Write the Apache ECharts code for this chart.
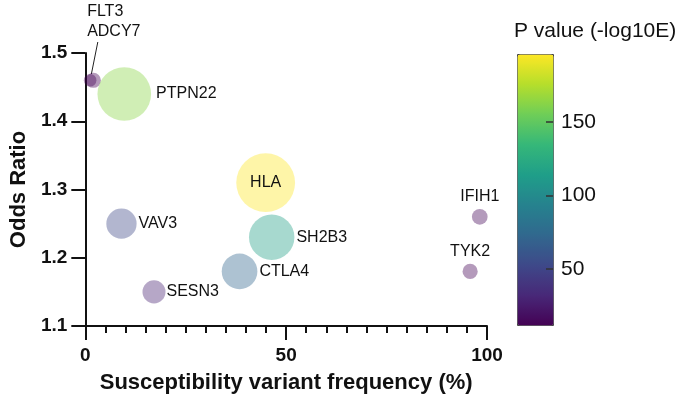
<!DOCTYPE html>
<html>
<head>
<meta charset="utf-8">
<script src="https://cdn.jsdelivr.net/npm/echarts@6/dist/echarts.min.js"></script>
<style>
html,body{margin:0;padding:0;background:#fff;}
#chart{width:685px;height:403px;}
</style>
</head>
<body>
<div id="chart"></div>
<script>
// ---- data ----
const genes = ['FLT3', 'ADCY7', 'PTPN22', 'HLA', 'SH2B3', 'CTLA4', 'VAV3', 'SESN3', 'IFIH1', 'TYK2'];
const variantFrequency = [1.2, 2.0, 9.7, 44.9, 46.4, 38.4, 9.0, 17.1, 98.2, 95.8];
const oddsRatio = [1.46, 1.46, 1.44, 1.31, 1.23, 1.18, 1.25, 1.15, 1.26, 1.18];
const pValueLog = [9, 13, 163, 196, 117, 72, 52, 30, 14, 13];
const xTicks = [0, 50, 100];
const yTicks = [1.1, 1.2, 1.3, 1.4, 1.5];
const colorbarTicks = [50, 100, 150];
const pRange = [12, 196];

const FONT = '"Liberation Sans", Arial, Helvetica, sans-serif';
const viridis = ['#440154', '#482878', '#3e4989', '#31688e', '#26828e', '#1f9e89', '#35b779', '#6ece58', '#b5de2b', '#fde725'];

// label placement per gene (style only)
const labelStyle = {
  FLT3: { show: true, position: 'top', formatter: 'FLT3\nADCY7', align: 'left', lineHeight: 20, padding: [0, 0, 0, 32] },
  ADCY7: { show: false },
  PTPN22: { show: true, position: 'right', distance: 5 },
  HLA: { show: true, position: 'inside' },
  SH2B3: { show: true, position: 'right', distance: 2, offset: [0, 4] },
  CTLA4: { show: true, position: 'right', distance: 2, offset: [0, 2] },
  VAV3: { show: true, position: 'right', distance: 2 },
  SESN3: { show: true, position: 'right', distance: 1, offset: [0, 4] },
  IFIH1: { show: true, position: 'top', distance: 4 },
  TYK2: { show: true, position: 'top', distance: 4 }
};

const data = genes.map((g, i) => ({
  name: g,
  value: [variantFrequency[i], oddsRatio[i], pValueLog[i]],
  label: labelStyle[g],
  labelLine: { show: g === 'FLT3', lineStyle: { color: '#222', width: 1, opacity: 1 } }
}));

const chart = echarts.init(document.getElementById('chart'), null, { renderer: 'canvas' });

const option = {
  animation: false,
  backgroundColor: '#ffffff',
  textStyle: { fontFamily: FONT },
  title: {
    text: 'P value (-log10E)',
    left: 514,
    top: 21,
    padding: 0,
    textStyle: { fontFamily: FONT, fontSize: 21, fontWeight: 'normal', color: '#111' }
  },
  grid: [
    { left: 79, top: 53, width: 408, height: 273, containLabel: false },
    { left: 517, top: 54, width: 36, height: 271, containLabel: false }
  ],
  xAxis: [
    {
      gridIndex: 0,
      type: 'value',
      min: xTicks[0],
      max: xTicks[xTicks.length - 1],
      interval: 50,
      name: 'Susceptibility variant frequency (%)',
      nameLocation: 'middle',
      nameGap: 46,
      nameTextStyle: { fontFamily: FONT, fontSize: 22, fontWeight: 'bold', color: '#111' },
      axisLine: { show: true, onZero: false, lineStyle: { color: '#111', width: 2 } },
      axisTick: { show: true, length: 14, lineStyle: { color: '#111', width: 2 } },
      minorTick: { show: true, splitNumber: 10, length: 7, lineStyle: { color: '#111', width: 2 } },
      axisLabel: { fontFamily: FONT, fontSize: 19, fontWeight: 'bold', color: '#111', margin: 20 },
      splitLine: { show: false },
      minorSplitLine: { show: false }
    },
    {
      gridIndex: 1, type: 'value', min: 0, max: 1, show: false
    }
  ],
  yAxis: [
    {
      gridIndex: 0,
      type: 'value',
      min: yTicks[0],
      max: yTicks[yTicks.length - 1],
      interval: 0.1,
      name: 'Odds Ratio',
      nameLocation: 'middle',
      nameGap: 46,
      nameTextStyle: { fontFamily: FONT, fontSize: 22, fontWeight: 'bold', color: '#111' },
      axisLine: { show: true, onZero: false, lineStyle: { color: '#111', width: 2 } },
      axisTick: { show: true, length: 14, lineStyle: { color: '#111', width: 2 } },
      axisLabel: {
        fontFamily: FONT, fontSize: 19, fontWeight: 'bold', color: '#111', margin: 18,
        formatter: v => v.toFixed(1)
      },
      splitLine: { show: false }
    },
    {
      gridIndex: 1,
      type: 'value',
      position: 'right',
      z: 20,
      min: pRange[0],
      max: pRange[1],
      axisLine: { show: false, onZero: false },
      axisTick: { show: true, inside: true, length: 7, customValues: colorbarTicks, lineStyle: { color: '#333', width: 1.5 } },
      axisLabel: { fontFamily: FONT, fontSize: 21, color: '#111', margin: 8, customValues: colorbarTicks },
      splitLine: { show: false }
    }
  ],
  visualMap: {
    type: 'continuous',
    seriesIndex: 0,
    dimension: 2,
    min: pRange[0],
    max: pRange[1],
    left: 517,
    top: 54,
    itemWidth: 36,
    itemHeight: 271,
    padding: 0,
    text: null,
    showLabel: false,
    calculable: false,
    hoverLink: false,
    borderColor: '#444',
    borderWidth: 1,
    z: 2,
    inRange: { color: viridis, colorAlpha: 0.5 },
    controller: { inRange: { color: viridis, colorAlpha: 1 } }
  },
  series: [
    {
      type: 'scatter',
      xAxisIndex: 0,
      yAxisIndex: 0,
      data: data,
      symbol: 'circle',
      symbolSize: v => 4.2 * Math.sqrt(v[2]),
      label: {
        fontFamily: FONT,
        fontSize: 16,
        color: '#111',
        opacity: 1,
        formatter: p => p.name
      },
      labelLayout: p => {
        if (genes[p.dataIndex] === 'FLT3') {
          return { dx: -35, dy: -27 };
        }
        return {};
      },
      emphasis: { disabled: true }
    }
  ]
};

chart.setOption(option);
</script>
</body>
</html>
